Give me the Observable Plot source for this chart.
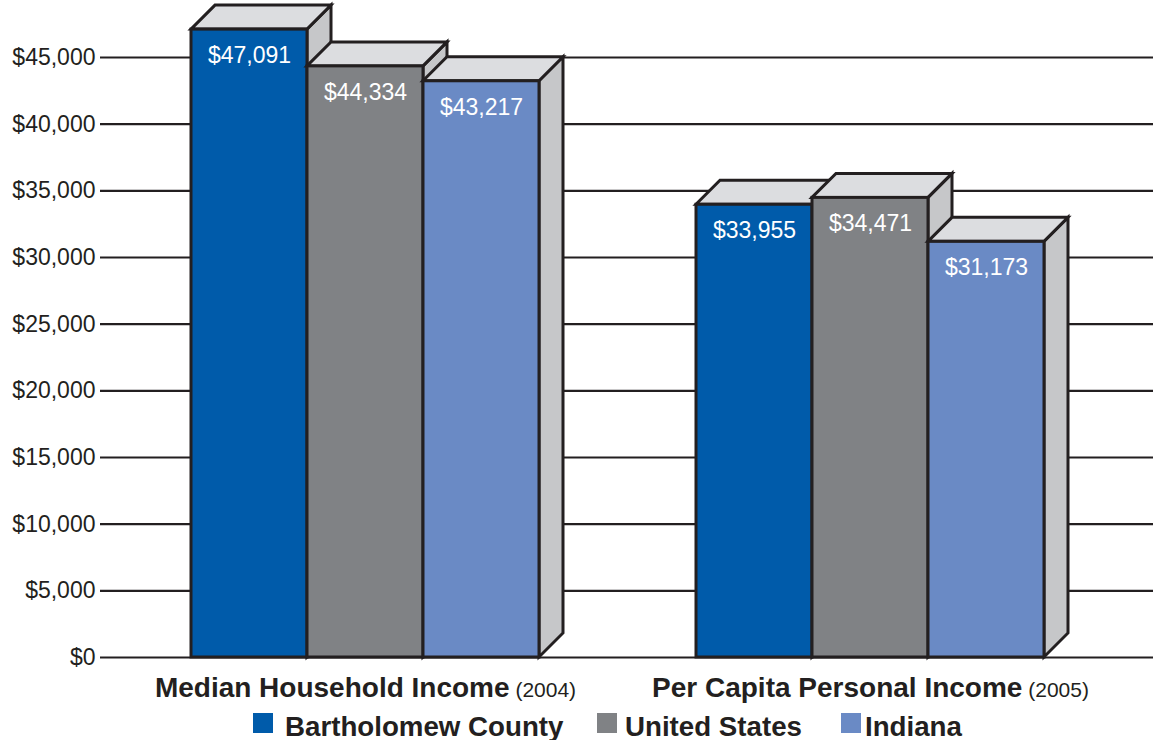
<!DOCTYPE html>
<html>
<head>
<meta charset="utf-8">
<script src="https://cdn.jsdelivr.net/npm/d3@7"></script>
<script src="https://cdn.jsdelivr.net/npm/@observablehq/plot@0.6"></script>
<style>
  body { margin: 0; background: #fff; overflow: hidden; font-family: "Liberation Sans", Arial, Helvetica, sans-serif; }
  #chart svg { display: block; overflow: visible; }
  #legend { position: relative; height: 40px; width: 1153px; }
  .item { position: absolute; top: 0; height: 40px; }
  .sw { position: absolute; top: 13px; left: 0; width: 20px; height: 20px; }
  .lt { position: absolute; top: 14px; white-space: nowrap; font-weight: bold; font-size: 27.7px; line-height: 26px; color: #231f20; }
</style>
</head>
<body>
<div id="chart"></div>
<div id="legend"></div>
<script>
// ---- data ----
const categories = ["Median Household Income", "Per Capita Personal Income"];
const years = ["(2004)", "(2005)"];
const series = ["Bartholomew County", "United States", "Indiana"];
const medianHousehold = [47091, 44334, 43217];
const perCapita = [33955, 34471, 31173];
const yTicks = [0, 5000, 10000, 15000, 20000, 25000, 30000, 35000, 40000, 45000];

// ---- styles ----
const colors = ["#005baa", "#808285", "#6a8ac5"];
const ink = "#231f20";
const topFace = "#dcdde0";
const sideFace = "#c6c7c9";
const depth = 24;
const gridWidth = 2.2;

const valuesByCategory = [medianHousehold, perCapita];
const rows = [];
categories.forEach((c, i) => {
  series.forEach((s, j) => rows.push({category: c, series: s, value: valuesByCategory[i][j]}));
});

const fmt = d3.format("$,");
const W = 1153;

const chart = Plot.plot({
  width: W,
  height: 700,
  marginLeft: 100,
  marginRight: 0,
  marginTop: 57,
  marginBottom: 43,
  style: {fontFamily: "'Liberation Sans', Arial, Helvetica, sans-serif", background: "#fff", overflow: "visible"},
  fx: {domain: categories, paddingInner: 0.307, paddingOuter: 0.196, align: 0.4545, label: null},
  x: {domain: series, padding: 0, axis: null},
  y: {domain: [0, 45000], label: null},
  color: {domain: series, range: colors},
  marks: [
    // gridlines: stretched from the first facet across the whole plot width
    Plot.ruleY(yTicks, {stroke: ink, strokeWidth: gridWidth, insetLeft: -90, insetRight: -613}),
    Plot.axisY({ticks: yTicks, tickFormat: fmt, tickSize: 0, tickPadding: 5, dx: -90, fontSize: 23, fill: ink, label: null}),
    Plot.barY(rows, {fx: "category", x: "series", y: "value", fill: "series", stroke: ink, strokeWidth: 3}),
    Plot.text(rows, {fx: "category", x: "series", y: "value", text: d => fmt(d.value), fill: "white", fontSize: 23, lineAnchor: "top", dy: 17}),
    Plot.axisFx({anchor: "bottom", tickSize: 0, tickPadding: 20, fontSize: 28, fontWeight: "bold", fill: ink, label: null})
  ]
});

document.getElementById("chart").appendChild(chart);

// ---- lift the gridlines of the first facet out of the facet groups (absolute coordinates) ----
d3.select(chart).selectAll('g[aria-label="rule"]').each(function() {
  const ruleG = this;
  const facets = Array.from(ruleG.children).filter(n => n.tagName.toLowerCase() === "g");
  if (!facets.length) return;
  const m = /translate\(([-\d.e]+)[ ,]+([-\d.e]+)\)/.exec(facets[0].getAttribute("transform") || "");
  const tx = m ? +m[1] : 0, ty = m ? +m[2] : 0;
  for (const line of Array.from(facets[0].querySelectorAll("line"))) {
    line.setAttribute("x1", +line.getAttribute("x1") + tx);
    line.setAttribute("x2", Math.min(W, +line.getAttribute("x2") + tx));
    line.setAttribute("y1", +line.getAttribute("y1") + ty);
    line.setAttribute("y2", +line.getAttribute("y2") + ty);
    line.setAttribute("stroke", ink);
    line.setAttribute("stroke-width", gridWidth);
    ruleG.appendChild(line);
  }
  facets.forEach(f => f.remove());
});

// ---- 3D faces built from the rendered bar rects ----
const NS = "http://www.w3.org/2000/svg";
d3.select(chart).selectAll('g[aria-label="bar"] rect').each(function() {
  const r = this;
  const x1 = +r.getAttribute("x"), y1 = +r.getAttribute("y");
  const x2 = x1 + (+r.getAttribute("width")), y2 = y1 + (+r.getAttribute("height"));
  const side = document.createElementNS(NS, "polygon");
  side.setAttribute("points", [[x2, y1], [x2 + depth, y1 - depth], [x2 + depth, y2 - depth], [x2, y2]].join(" "));
  side.setAttribute("fill", sideFace);
  const top = document.createElementNS(NS, "polygon");
  top.setAttribute("points", [[x1, y1], [x1 + depth, y1 - depth], [x2 + depth, y1 - depth], [x2, y1]].join(" "));
  top.setAttribute("fill", topFace);
  for (const p of [side, top]) {
    p.setAttribute("stroke", ink);
    p.setAttribute("stroke-width", 3);
    p.setAttribute("stroke-linejoin", "miter");
    r.parentNode.insertBefore(p, r);
  }
});

// ---- category labels: add the year in regular weight ----
d3.select(chart).selectAll("text").each(function() {
  const i = categories.indexOf(this.textContent);
  if (i >= 0) {
    const t = document.createElementNS(NS, "tspan");
    t.setAttribute("font-weight", "normal");
    t.setAttribute("font-size", 21);
    t.textContent = " " + years[i];
    this.appendChild(t);
  }
});

// ---- legend ----
const legendLeft = [253, 597, 841];
const textOffset = [32, 28, 24];
const legend = d3.select("#legend");
series.forEach((s, i) => {
  const item = legend.append("div").attr("class", "item").style("left", legendLeft[i] + "px");
  item.append("span").attr("class", "sw").style("background", colors[i]);
  item.append("span").attr("class", "lt").style("left", textOffset[i] + "px").text(s);
});
</script>
</body>
</html>
